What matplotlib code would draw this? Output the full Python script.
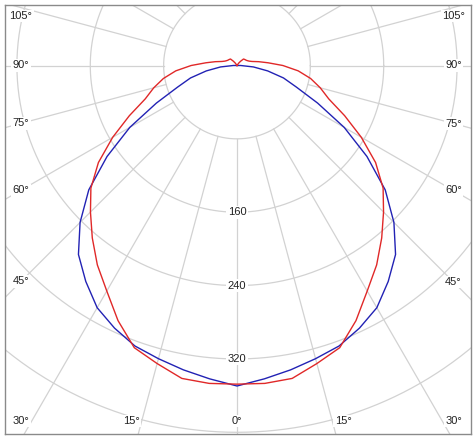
import numpy as np
import matplotlib
matplotlib.use("Agg")
import matplotlib.pyplot as plt

# ---------------- data ----------------
gamma_deg = [0, 5, 10, 15, 20, 25, 30, 35, 40, 45, 50, 55, 60, 65, 70, 75, 80, 85, 90,
             95, 100, 105, 110, 115, 120, 125, 130, 135, 140, 145, 150, 155, 160, 165,
             170, 175, 180]
# C0-C180 plane (red), cd/klm
red_cd = [347.5, 348, 346.5, 336.5, 327.5, 307, 284, 265.5, 245.5, 226, 208, 184.5,
          156.5, 129.5, 106.5, 94, 81.5, 67, 50,
          34, 24, 17, 14, 12.5, 11.5, 11, 10.5, 10, 6, 3, 0, 0, 0, 0, 0, 0, 0]
# C90-C270 plane (blue), cd/klm
blue_cd = [349.5, 343, 337, 331, 325.5, 316, 305, 287.5, 269, 242, 211, 173,
           135, 97, 69, 52.5, 34, 18, 4,
           0, 0, 0, 0, 0, 0, 0, 0, 0, 0, 0, 0, 0, 0, 0, 0, 0, 0]

ring_values = [80, 160, 240, 320, 400, 480]
ring_labels = ["160", "240", "320"]
ring_label_values = [160, 240, 320]
spoke_step = 15
angle_label_values = [0, 15, 30, 45, 60, 75, 90, 105]

# ---------------- layout ----------------
W, H = 475, 438
S = 0.917            # pixels per cd
CX, CY = 237.0, 65.5  # pole position in pixels (from top-left)
FL, FR, FT, FB = 5.0, 470.5, 5.0, 433.5  # frame in pixels

fig = plt.figure(figsize=(W / 100, H / 100), dpi=100)
fig.patch.set_facecolor("white")
ax = fig.add_axes([FL / W, (H - FB) / H, (FR - FL) / W, (FB - FT) / H])
ax.set_xlim((FL - CX) / S, (FR - CX) / S)
ax.set_ylim(-(FB - CY) / S, (CY - FT) / S)
ax.set_xticks([])
ax.set_yticks([])
for sp in ax.spines.values():
    sp.set_color("#8a8a8a")
    sp.set_linewidth(1.0)

grid_col = "#d2d2d2"
# rings
t = np.linspace(0, 2 * np.pi, 721)
for r in ring_values:
    ax.plot(r * np.cos(t), r * np.sin(t), color=grid_col, lw=0.9, zorder=1)
# spokes, starting at the innermost ring
for a in range(-180, 180, spoke_step):
    ar = np.deg2rad(a)
    r0, r1 = ring_values[0], 800
    ax.plot([r0 * np.sin(ar), r1 * np.sin(ar)], [-r0 * np.cos(ar), -r1 * np.cos(ar)],
            color=grid_col, lw=0.9, zorder=1)

# curves
g = np.asarray(gamma_deg, dtype=float)
def full(vals):
    v = np.asarray(vals, dtype=float)
    gg = np.concatenate([-g[::-1], g[1:]])
    vv = np.concatenate([v[::-1], v[1:]])
    rad = np.deg2rad(gg)
    return vv * np.sin(rad), -vv * np.cos(rad)

xr, yr = full(red_cd)
xb, yb = full(blue_cd)
ax.plot(xb, yb, color="#2222b4", lw=1.0, zorder=4)
ax.plot(xr, yr, color="#e02828", lw=1.0, zorder=5)

font = dict(family=["Liberation Sans", "DejaVu Sans"], fontsize=8, color="#222222")
bbox = dict(boxstyle="square,pad=0.12", fc="white", ec="none")

# ring labels on the 0 deg axis
for v, lab in zip(ring_label_values, ring_labels):
    ax.text(0, -v, lab, ha="center", va="center", bbox=bbox, zorder=3, **font)

# angle labels along the frame
xl_in = (21 - CX) / S
xr_in = (453.5 - CX) / S
yb_in = -(421 - CY) / S
yt_in = (CY - 16) / S
yb_far = -(461 - CY) / S   # spoke crossing used for the bottom labels
for a in angle_label_values:
    for sgn in ([1] if a == 0 else [-1, 1]):
        ar = np.deg2rad(a)
        dx, dy = sgn * np.sin(ar), -np.cos(ar)
        tx = np.inf
        if dx > 1e-9:
            tx = xr_in / dx
        elif dx < -1e-9:
            tx = xl_in / dx
        ty = yb_far / dy if dy < -1e-9 else np.inf
        if ty < tx:
            px, py = ty * dx, yb_in
        else:
            px, py = tx * dx, tx * dy
        px = min(max(px, xl_in), xr_in)
        py = min(max(py, yb_in), yt_in)
        ax.text(px, py, f"{a}°", ha="center", va="center", bbox=bbox, zorder=3, **font)

fig.savefig("out.png", dpi=100, facecolor="white")
